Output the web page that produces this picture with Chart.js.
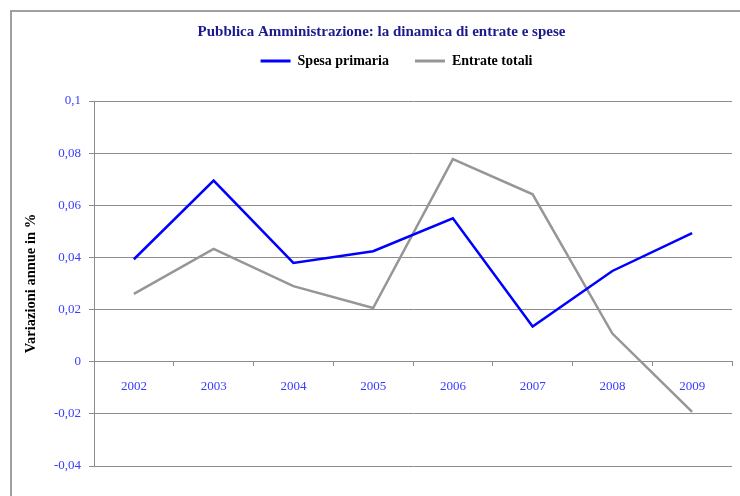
<!DOCTYPE html>
<html>
<head>
<meta charset="utf-8">
<script src="https://cdn.jsdelivr.net/npm/chart.js@4/dist/chart.umd.min.js"></script>
<style>
html,body{margin:0;padding:0;background:#ffffff;}
#wrap{width:740px;height:496px;position:relative;}
</style>
</head>
<body>
<div id="wrap"><canvas id="c" width="740" height="496"></canvas></div>
<script>
const years = ['2002', '2003', '2004', '2005', '2006', '2007', '2008', '2009'];
const spesaPrimaria = [0.0393, 0.0695, 0.0379, 0.0424, 0.0550, 0.0135, 0.0348, 0.0493];
const entrateTotali = [0.0260, 0.0433, 0.0290, 0.0206, 0.0777, 0.0642, 0.0108, -0.0192];
const yTickValues = [-0.04, -0.02, 0, 0.02, 0.04, 0.06, 0.08, 0.1];
const yTickLabels = ['-0,04', '-0,02', '0', '0,02', '0,04', '0,06', '0,08', '0,1'];
const seriesNames = ['Spesa primaria', 'Entrate totali'];
const chartTitle = 'Pubblica Amministrazione: la dinamica di entrate e spese';
const yAxisTitle = 'Variazioni annue in %';

const SERIF = '"Liberation Serif", "Times New Roman", serif';
const GRID = '#8c8c8c';
const TICKBLUE = '#3a3aff';

const framePlugin = {
  id: 'frame',
  beforeDraw(chart) {
    const ctx = chart.ctx;
    ctx.save();
    ctx.strokeStyle = '#a0a0a0';
    ctx.lineWidth = 2;
    ctx.beginPath();
    ctx.moveTo(11, 496);
    ctx.lineTo(11, 11);
    ctx.lineTo(740, 11);
    ctx.stroke();
    ctx.restore();
  }
};

const legendSpacer = {
  id: 'legendSpacer',
  beforeLayout(chart) {
    const lg = chart.legend;
    if (lg && !lg._spaced) {
      const f = lg.fit;
      lg.fit = function () { f.call(this); this.height += 10; };
      lg._spaced = true;
    }
  },
  afterLayout(chart) {
    const lg = chart.legend;
    if (lg) { lg.left += 15; lg.right += 15; lg.top -= 13; lg.bottom -= 13; }
  }
};

new Chart(document.getElementById('c'), {
  type: 'line',
  data: {
    labels: years,
    datasets: [
      { label: seriesNames[0], data: spesaPrimaria, borderColor: '#0000ff', backgroundColor: '#0000ff',
        borderWidth: 2.5, pointRadius: 0, tension: 0, fill: false },
      { label: seriesNames[1], data: entrateTotali, borderColor: '#969696', backgroundColor: '#969696',
        borderWidth: 2.5, pointRadius: 0, tension: 0, fill: false }
    ]
  },
  options: {
    responsive: false,
    devicePixelRatio: 1,
    animation: false,
    layout: { padding: { left: 31, right: 8, top: 11, bottom: 30 } },
    plugins: {
      title: {
        display: true, text: chartTitle, color: '#1a1a8c',
        font: { family: SERIF, size: 15, weight: 'bold', lineHeight: 1.2 },
        padding: { top: 12, bottom: 0 }
      },
      legend: {
        display: true, position: 'top', align: 'center',
        labels: {
          boxWidth: 30, boxHeight: 3, padding: 26, color: '#000000',
          font: { family: SERIF, size: 14, weight: 'bold' },
          generateLabels(chart) {
            return chart.data.datasets.map((ds, i) => ({
              text: ds.label, fillStyle: ds.borderColor, strokeStyle: ds.borderColor,
              lineWidth: 0, hidden: false, datasetIndex: i, fontColor: '#000000'
            }));
          }
        }
      },
      tooltip: { enabled: false }
    },
    scales: {
      x: {
        type: 'category',
        position: { y: 0 },
        offset: true,
        grid: { display: true, drawOnChartArea: false, drawTicks: true, tickLength: 4, offset: true, color: GRID },
        border: { display: true, color: GRID, width: 1 },
        ticks: { color: TICKBLUE, font: { family: SERIF, size: 13 }, padding: 13, maxRotation: 0 }
      },
      y: {
        min: -0.04, max: 0.1,
        afterBuildTicks(scale) { scale.ticks = yTickValues.map(v => ({ value: v })); },
        afterFit(scale) { scale.width = 63; },
        grid: { display: true, drawOnChartArea: true, drawTicks: true, tickLength: 5, color: GRID },
        border: { display: true, color: GRID, width: 1 },
        ticks: {
          color: TICKBLUE, font: { family: SERIF, size: 13 }, padding: 8,
          callback(value, index) { return yTickLabels[index]; }
        },
        title: {
          display: true, text: yAxisTitle, color: '#000000',
          font: { family: SERIF, size: 14.5, weight: 'bold', lineHeight: 1.2 },
          padding: { top: -8.7, bottom: 0 }
        }
      }
    }
  },
  plugins: [framePlugin, legendSpacer]
});
</script>
</body>
</html>
